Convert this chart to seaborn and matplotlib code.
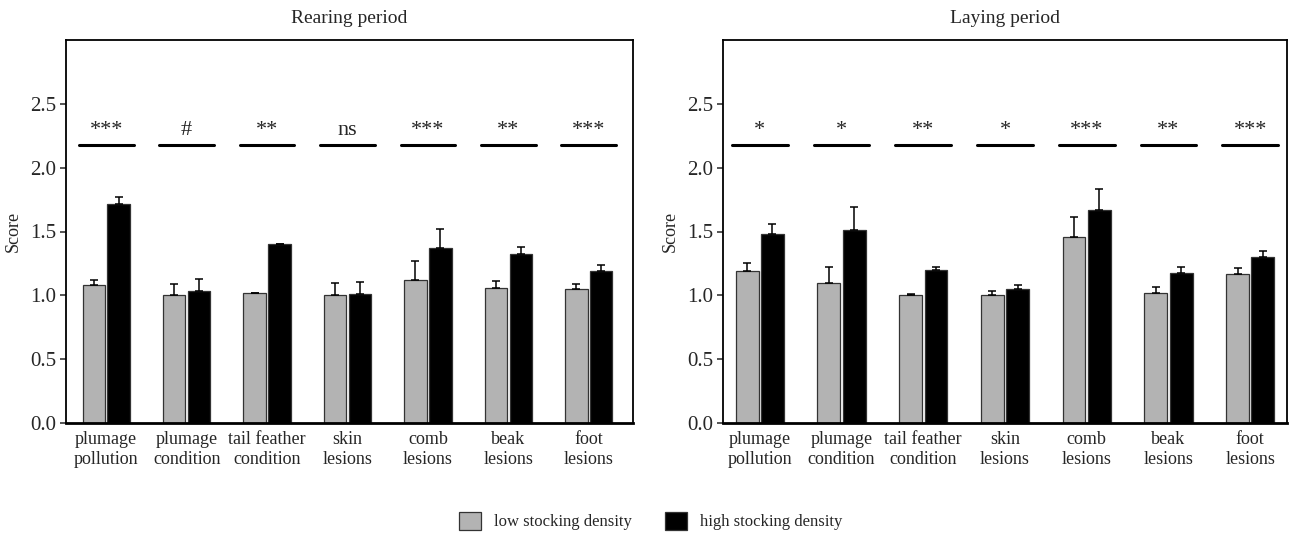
import numpy as np
import pandas as pd
import matplotlib
matplotlib.use("Agg")
import matplotlib.pyplot as plt
from matplotlib.patches import Patch
import seaborn as sns

categories = ["plumage\npollution", "plumage\ncondition", "tail feather\ncondition",
              "skin\nlesions", "comb\nlesions", "beak\nlesions", "foot\nlesions"]
groups = ["low stocking density", "high stocking density"]

rear_low = [1.083, 1.00, 1.018, 1.00, 1.12, 1.06, 1.05]
rear_low_err = [0.037, 0.09, 0.004, 0.096, 0.15, 0.05, 0.039]
rear_high = [1.714, 1.036, 1.40, 1.008, 1.37, 1.326, 1.19]
rear_high_err = [0.054, 0.094, 0.005, 0.096, 0.148, 0.054, 0.044]
rear_sig = ["***", "#", "**", "ns", "***", "**", "***"]

lay_low = [1.19, 1.096, 1.0, 1.0, 1.458, 1.018, 1.167]
lay_low_err = [0.063, 0.128, 0.013, 0.031, 0.157, 0.047, 0.047]
lay_high = [1.484, 1.513, 1.20, 1.05, 1.672, 1.174, 1.30]
lay_high_err = [0.076, 0.175, 0.019, 0.028, 0.158, 0.05, 0.05]
lay_sig = ["*", "*", "**", "*", "***", "**", "***"]

sns.set_theme(style="ticks")
plt.rcParams['font.family'] = ['Liberation Serif', 'DejaVu Serif']
plt.rcParams['axes.linewidth'] = 1.3

colors = {"low stocking density": "#b3b3b3", "high stocking density": "#000000"}

fig = plt.figure(figsize=(12.89, 5.36), dpi=100)
ax1 = fig.add_axes([66/1289, 1-423/536, (633-66)/1289, (423-40)/536])
ax2 = fig.add_axes([723/1289, 1-423/536, (1287-723)/1289, (423-40)/536])

def panel(ax, low, low_err, high, high_err, sig, title, xlim):
    df = pd.DataFrame({
        "category": categories * 2,
        "group": [groups[0]] * len(categories) + [groups[1]] * len(categories),
        "score": low + high,
    })
    sns.barplot(data=df, x="category", y="score", hue="group", order=categories,
                hue_order=groups, palette=colors, width=0.62, gap=0.1,
                edgecolor="#333333", linewidth=0.9, errorbar=None, legend=False, ax=ax)
    errs = low_err + high_err
    vals = low + high
    for p, v, e in zip(ax.patches[:len(vals)], vals, errs):
        xc = p.get_x() + p.get_width() / 2
        ax.errorbar([xc], [v], yerr=[[0], [e]], fmt="none", ecolor="black",
                    elinewidth=1.1, capsize=3, capthick=1.1, zorder=3)
    for i, s in enumerate(sig):
        ax.plot([i - 0.34, i + 0.34], [2.18, 2.18], color="black", lw=2.2)
        ax.text(i, 2.22, s, ha="center", va="bottom", fontsize=16)
    ax.set_ylim(0, 3.0)
    ax.set_xlim(*xlim)
    ax.set_yticks([0.0, 0.5, 1.0, 1.5, 2.0, 2.5])
    ax.set_yticklabels(["0.0", "0.5", "1.0", "1.5", "2.0", "2.5"])
    ax.tick_params(axis="y", labelsize=15, length=4, width=1.1, direction="out", pad=3)
    ax.tick_params(axis="x", labelsize=13, length=0, pad=6)
    ax.set_xlabel("")
    ax.set_ylabel("Score", fontsize=13, labelpad=6)
    ax.set_title(title, fontsize=14, pad=12)
    for sp in ax.spines.values():
        sp.set_visible(True)
        sp.set_color("black")
    ax.spines["bottom"].set_linewidth(2)

panel(ax1, rear_low, rear_low_err, rear_high, rear_high_err, rear_sig, "Rearing period", (-0.5, 6.55))
panel(ax2, lay_low, lay_low_err, lay_high, lay_high_err, lay_sig, "Laying period", (-0.45, 6.45))

handles = [Patch(facecolor=colors[g], edgecolor="#333333", linewidth=0.9) for g in groups]
fig.legend(handles, groups, loc="center", bbox_to_anchor=(651/1289, 1-521/536), ncol=2,
           frameon=False, fontsize=12, handlelength=1.3, handleheight=1.3,
           columnspacing=2.0, handletextpad=0.8)

fig.savefig("out.png", dpi=100, facecolor="white")
